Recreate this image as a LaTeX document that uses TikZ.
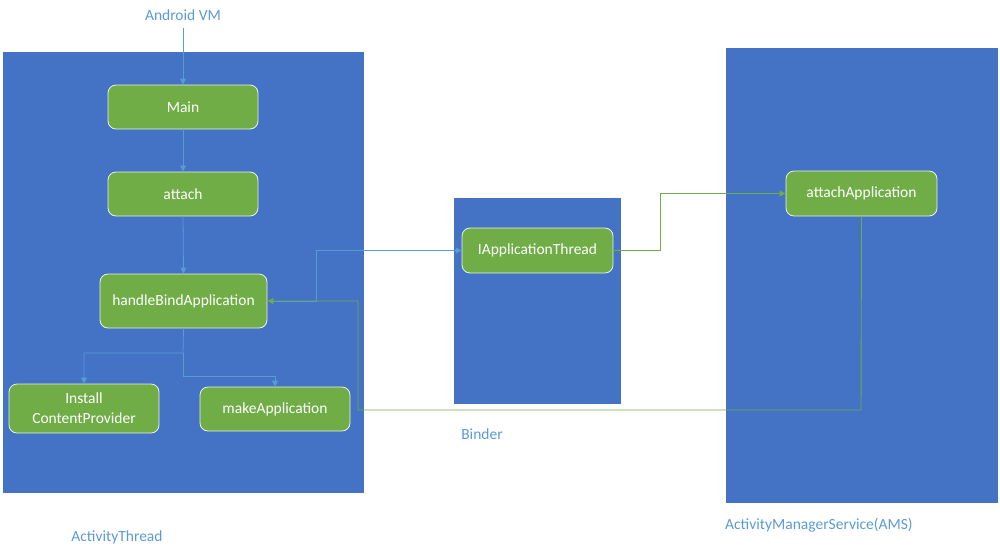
\documentclass[tikz,border=0pt]{standalone}
\usepackage{fontspec}
\setmainfont{Carlito}
\usetikzlibrary{arrows.meta}
\definecolor{panel}{HTML}{4472C4}
\definecolor{gbox}{HTML}{70AD47}
\definecolor{lblue}{HTML}{5B9BD5}
\begin{document}
\begin{tikzpicture}[x=1pt,y=-1pt,
  panelbox/.style={fill=panel,draw=none},
  gnode/.style={fill=gbox,draw=white!85!gbox,line width=0.8pt,rounded corners=8pt,text=white,font=\fontsize{15.5}{20}\selectfont,align=center,inner sep=0pt},
  lbl/.style={text=lblue,font=\fontsize{15.5}{18}\selectfont,inner sep=0pt},
  barr/.style={draw=lblue,line width=0.8pt,-{Triangle[length=6pt,width=6pt]}},
  garr/.style={draw=gbox,line width=0.9pt,-{Triangle[length=6pt,width=6pt]}}]
\useasboundingbox (0,0) rectangle (1000,555);
\fill[white] (0,0) rectangle (1000,555);
% panels
\fill[panelbox] (3,52) rectangle (364,493);
\fill[panelbox] (454,198) rectangle (621,404);
\fill[panelbox] (726,48) rectangle (998,503);
% labels
\node[lbl] (vm) at (183,15) {Android VM};
\node[lbl] (binder) at (482,434) {Binder};
\node[lbl] (at) at (117,537) {ActivityThread};
\node[lbl,anchor=west] (ams) at (725,525) {ActivityManagerService(AMS)};
% nodes
\node[gnode,minimum width=150pt,minimum height=44pt] (main) at (183,107) {Main};
\node[gnode,minimum width=150pt,minimum height=44pt] (attach) at (183,194) {attach};
\node[gnode,minimum width=167pt,minimum height=54pt] (hba) at (183.5,301) {handleBindApplication};
\node[gnode,minimum width=150pt,minimum height=49pt] (icp) at (84,408.5) {Install\\ContentProvider};
\node[gnode,minimum width=150pt,minimum height=44pt] (mk) at (275,409) {makeApplication};
\node[gnode,minimum width=151pt,minimum height=45pt] (iat) at (537.5,250.5) {IApplicationThread};
\node[gnode,minimum width=151pt,minimum height=45pt] (aa) at (861.5,193.5) {attachApplication};
% coordinates
\coordinate (c1) at (183,28);
\coordinate (split) at (183,353);
\coordinate (low) at (183,376);
% connectors
\draw[barr] (c1) -- (main.north);
\draw[barr] (main.south) -- (attach.north);
\draw[barr] (attach.south) -- (hba.north);
\draw[barr] (hba.south) -- (split) -| (icp.north);
\draw[barr] (split) -- (low) -| (mk.north);
\draw[barr] (hba.east) -- (316,301) |- (iat.west);
\draw[garr] (iat.east) -- (660,250.5) |- (aa.west);
\draw[garr] (aa.south) -- (861,410) -- (358,410) |- (hba.east);
\end{tikzpicture}
\end{document}
